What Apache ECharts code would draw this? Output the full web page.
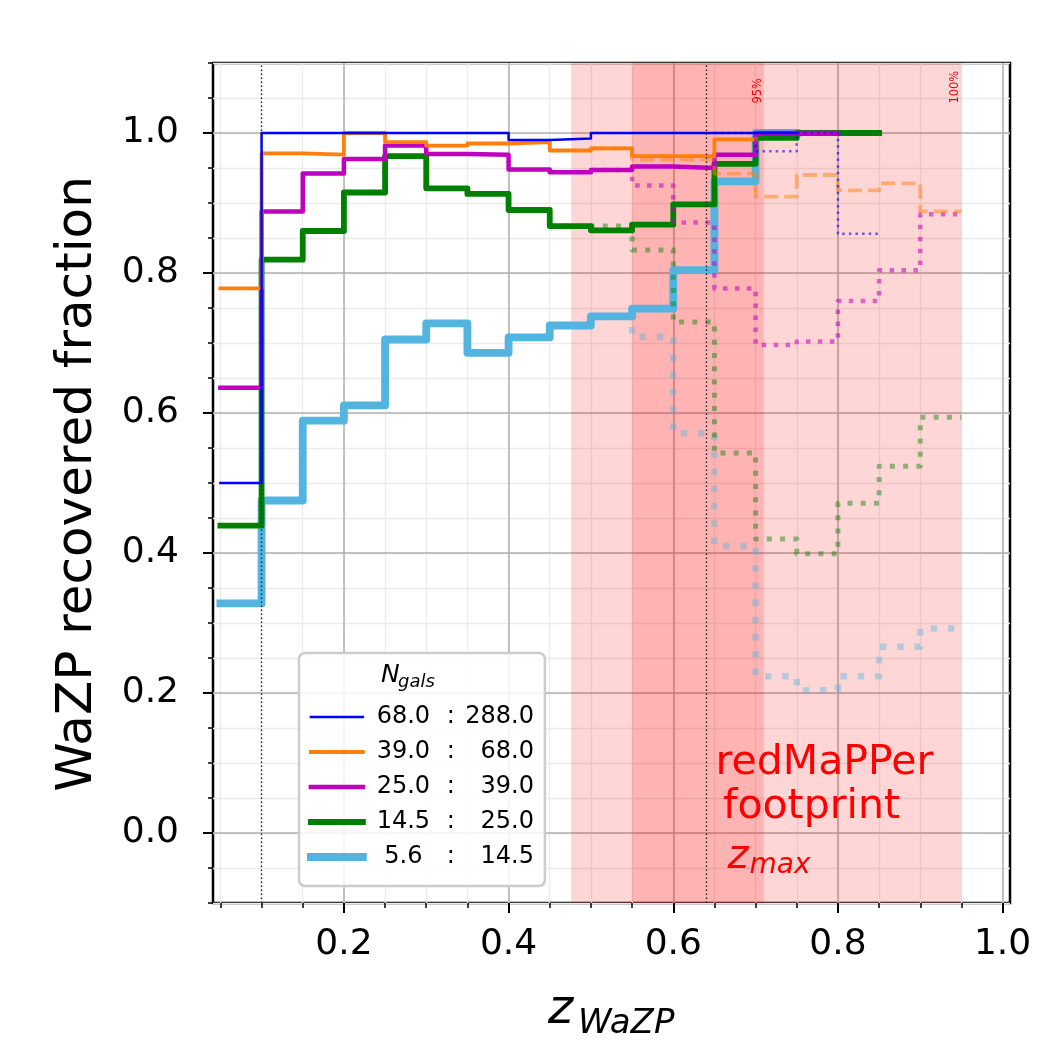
<!DOCTYPE html>
<html><head><meta charset="utf-8">
<script src="https://cdn.jsdelivr.net/npm/echarts@6/dist/echarts.min.js"></script>
<style>html,body{margin:0;padding:0;background:#fff}#c{width:1062px;height:1062px}</style>
</head><body><div id="c"></div>
<script>
// ---- data ----
const binEdges = [0.05,0.10,0.15,0.20,0.25,0.30,0.35,0.40,0.45,0.50,0.55,0.60,0.65,0.70,0.75,0.80,0.85,0.90,0.95];
const legendRanges = [['68.0','288.0'],['39.0','68.0'],['25.0','39.0'],['14.5','25.0'],['5.6','14.5']];

// solid: footprint-limited recovered fraction, bins starting at 0.05
const blueSolid    = [0.500,1.000,1.000,1.000,1.000,1.000,1.000,0.990,0.992,1.000,1.000,1.000,1.000,1.000];
const orangeSolid  = [0.778,0.971,0.969,1.000,0.987,0.982,0.985,0.987,0.975,0.978,0.967,0.967,0.991];
const magentaSolid = [0.636,0.888,0.942,0.963,0.982,0.970,0.969,0.948,0.944,0.947,0.952,0.950,0.969,1.000,1.000];
const greenSolid   = [0.439,0.819,0.860,0.915,0.967,0.921,0.913,0.890,0.867,0.861,0.869,0.898,0.956,0.993,1.000,1.000];
const skySolid     = [0.328,0.475,0.589,0.611,0.705,0.728,0.686,0.708,0.725,0.738,0.749,0.804,0.931,1.000];

// faded: full-sample continuation (start bin given)
const blueFadedStart = 0.65,    blueFaded    = [1.000,0.974,1.000,0.856];
const orangeFadedStart = 0.50,  orangeFaded  = [0.978,0.962,0.962,0.942,0.909,0.940,0.918,0.928,0.888];
const magentaFadedStart = 0.50, magentaFaded = [0.947,0.925,0.872,0.778,0.697,0.702,0.760,0.804,0.884];
const greenFadedStart = 0.45,   greenFaded   = [0.867,0.867,0.833,0.730,0.543,0.420,0.399,0.471,0.524,0.594];
const skyFadedStart = 0.50,     skyFaded     = [0.738,0.709,0.571,0.410,0.224,0.204,0.224,0.266,0.292];

const footprintSpan = [0.476, 0.95];
const percentileSpan = [0.55, 0.71];
const zLow = 0.10, zMax = 0.643;

const xMajorTicks = [0.2,0.4,0.6,0.8,1.0];
const xMinorTicks = [0.05,0.10,0.15,0.20,0.25,0.30,0.35,0.40,0.45,0.50,0.55,0.60,0.65,0.70,0.75,0.80,0.85,0.90,0.95,1.00];
const yMajorTicks = [0.0,0.2,0.4,0.6,0.8,1.0];
const yMinorTicks = [-0.10,-0.05,0.00,0.05,0.10,0.15,0.20,0.25,0.30,0.35,0.40,0.45,0.50,0.55,0.60,0.65,0.70,0.75,0.80,0.85,0.90,0.95,1.00,1.05,1.10];
const xRange = [0.041, 1.009];
const yRange = [-0.1, 1.1];

// ---- build ----
function steps(startX, vals){
  const s = binEdges.findIndex(e => Math.abs(e - startX) < 1e-9);
  const pts = vals.map((v,i)=>[binEdges[s+i], v]);
  pts.push([binEdges[s+vals.length], vals[vals.length-1]]);
  return pts;
}
const FONT = 'DejaVu Sans';
function line(name, data, color, width, dash, extra){
  return Object.assign({
    type:'line', name, data, step:'end', xAxisIndex:1, yAxisIndex:1,
    symbol:'none', showSymbol:false, animation:false, silent:true, color,
    lineStyle:{color, width, type: dash || 'solid', cap: dash ? 'butt' : 'square', join:'round'}
  }, extra||{});
}
const dot = w => [w*1.0, w*1.65];
const dash = w => [w*3.7, w*1.6];

const series = [
  line('sky', steps(0.05, skySolid), '#53b4e0', 7.8, null, {
    markArea:{silent:true, itemStyle:{color:'rgba(255,0,0,0.16)'},
      data:[[{xAxis:footprintSpan[0]},{xAxis:footprintSpan[1]}],[{xAxis:percentileSpan[0]},{xAxis:percentileSpan[1]}]]},
    markLine:{silent:true, symbol:['none','none'], label:{show:false}, z:10,
      lineStyle:{color:'#222', width:1.4, type:[1.4,2.6]}, data:[{xAxis:zLow},{xAxis:zMax}]}
  }),
  line('skyF', steps(skyFadedStart, skyFaded), 'rgba(83,180,224,0.42)', 6.5, dot(6.5)),
  line('green', steps(0.05, greenSolid), '#008000', 5.8),
  line('greenF', steps(greenFadedStart, greenFaded), 'rgba(0,128,0,0.45)', 5, dot(5)),
  line('magenta', steps(0.05, magentaSolid), '#bf00bf', 4.5),
  line('magentaF', steps(magentaFadedStart, magentaFaded), 'rgba(191,0,191,0.55)', 4.5, dot(4.5)),
  line('orange', steps(0.05, orangeSolid), '#ff7f0e', 3.8),
  line('orangeF', steps(orangeFadedStart, orangeFaded), 'rgba(255,127,14,0.5)', 3.8, dash(3.8)),
  line('blue', steps(0.05, blueSolid), '#0000ff', 2.5),
  line('blueF', steps(blueFadedStart, blueFaded), 'rgba(0,0,255,0.6)', 2.5, dot(2.5)),
];
const legendNames = ['blue','orange','magenta','green','sky'];

const fmt1 = v => Number(v).toFixed(1);
function axisPair(kind, range, major, minor){
  const common = {type:'value', min:range[0], max:range[1], axisLine:{show:false, onZero:false}, position: kind==='x'?'bottom':'left'};
  return [
    Object.assign({}, common, {z:0,
      axisTick:{show:true, customValues:minor, length:5, lineStyle:{color:'#000', width:1.5}},
      axisLabel:{show:false},
      splitLine:{show:true, lineStyle:{color:'#ebebeb', width:1.3}}}),
    Object.assign({}, common, {z:1,
      axisTick:{show:true, customValues:major, length:10, lineStyle:{color:'#000', width:2}},
      axisLabel:{show:true, customValues:major, formatter:fmt1, fontFamily:FONT, fontSize:36, color:'#000', margin: kind==='x'?24:34},
      splitLine:{show:true, lineStyle:{color:'#b0b0b0', width:1.5}}})
  ];
}

const chart = echarts.init(document.getElementById('c'), null, {renderer:'canvas', width:1062, height:1062});
chart.setOption({
  animation:false,
  backgroundColor:'#fff',
  grid:{left:213, top:63, right:52, bottom:159, show:true, borderColor:'#000', borderWidth:2.5, backgroundColor:'transparent'},
  xAxis: axisPair('x', xRange, xMajorTicks, xMinorTicks),
  yAxis: axisPair('y', yRange, yMajorTicks, yMinorTicks),
  legend:{
    data: legendNames, orient:'vertical', left:299, top:653,
    padding:[52,11,17,8], itemGap:11, itemWidth:52, itemHeight:24,
    backgroundColor:'rgba(255,255,255,0.85)', borderColor:'#cccccc', borderWidth:2.5, borderRadius:6,
    selectedMode:false,
    itemStyle:{color:'rgba(0,0,0,0)', borderColor:'rgba(0,0,0,0)', borderWidth:0},
    lineStyle:{width:'inherit'},
    formatter: name => { const r = legendRanges[legendNames.indexOf(name)]; return '{a|'+r[0]+'}{b|:}{c|'+r[1]+'}'; },
    textStyle:{fontFamily:FONT, fontSize:24, color:'#000', lineHeight:24,
      rich:{a:{width:71, align:'right', fontSize:24, fontFamily:FONT},
            b:{width:24, align:'center', fontSize:24, fontFamily:FONT}, c:{width:71, align:'right', fontSize:24, fontFamily:FONT}}}
  },
  series
});

// ---- annotations placed through the axes ----
const P = (x,y) => chart.convertToPixel({xAxisIndex:1, yAxisIndex:1}, [x,y]);
const pct95 = P(percentileSpan[1], 1.042), pct100 = P(footprintSpan[1], 1.042);
const fp = P(0.7837, 0.0), zm = P(0.666, 0.0);
const red = '#ff0000';
chart.setOption({graphic:[
  {type:'text', x:pct95[0], y:pct95[1], rotation:Math.PI/2, z:20,
   style:{text:'95%', fill:red, font:'11.5px "DejaVu Sans"', align:'left', verticalAlign:'bottom'}},
  {type:'text', x:pct100[0], y:pct100[1], rotation:Math.PI/2, z:20,
   style:{text:'100%', fill:red, font:'11.5px "DejaVu Sans"', align:'left', verticalAlign:'bottom'}},
  {type:'text', x:fp[0], y:fp[1]-92, z:20,
   style:{text:'redMaPPer\nfootprint  ', fill:red, font:'41px "DejaVu Sans"', lineHeight:44, align:'center', verticalAlign:'top'}},
  {type:'text', x:zm[0], y:zm[1]+25, z:20,
   style:{text:'z', fill:red, font:'italic 40px "DejaVu Sans"', align:'left', verticalAlign:'middle'}},
  {type:'text', x:zm[0]+22, y:zm[1]+33, z:20,
   style:{text:'max', fill:red, font:'italic 28px "DejaVu Sans"', align:'left', verticalAlign:'middle'}},
  // axis titles
  {type:'text', x:78, y:484, rotation:Math.PI/2, z:20,
   style:{text:'WaZP recovered fraction', fill:'#000', font:'50px "DejaVu Sans"', align:'center', verticalAlign:'middle'}},
  {type:'text', x:548, y:1011, z:20,
   style:{text:'z', fill:'#000', font:'italic 48px "DejaVu Sans"', align:'left', verticalAlign:'middle'}},
  {type:'text', x:578, y:1024, z:20,
   style:{text:'WaZP', fill:'#000', font:'italic 34px "DejaVu Sans"', align:'left', verticalAlign:'middle'}},
  // legend title
  {type:'text', x:381, y:675, z:30,
   style:{text:'N', fill:'#000', font:'italic 25px "DejaVu Sans"', align:'left', verticalAlign:'middle'}},
  {type:'text', x:398, y:682, z:30,
   style:{text:'gals', fill:'#000', font:'italic 18px "DejaVu Sans"', align:'left', verticalAlign:'middle'}}
]});
</script>
</body></html>
